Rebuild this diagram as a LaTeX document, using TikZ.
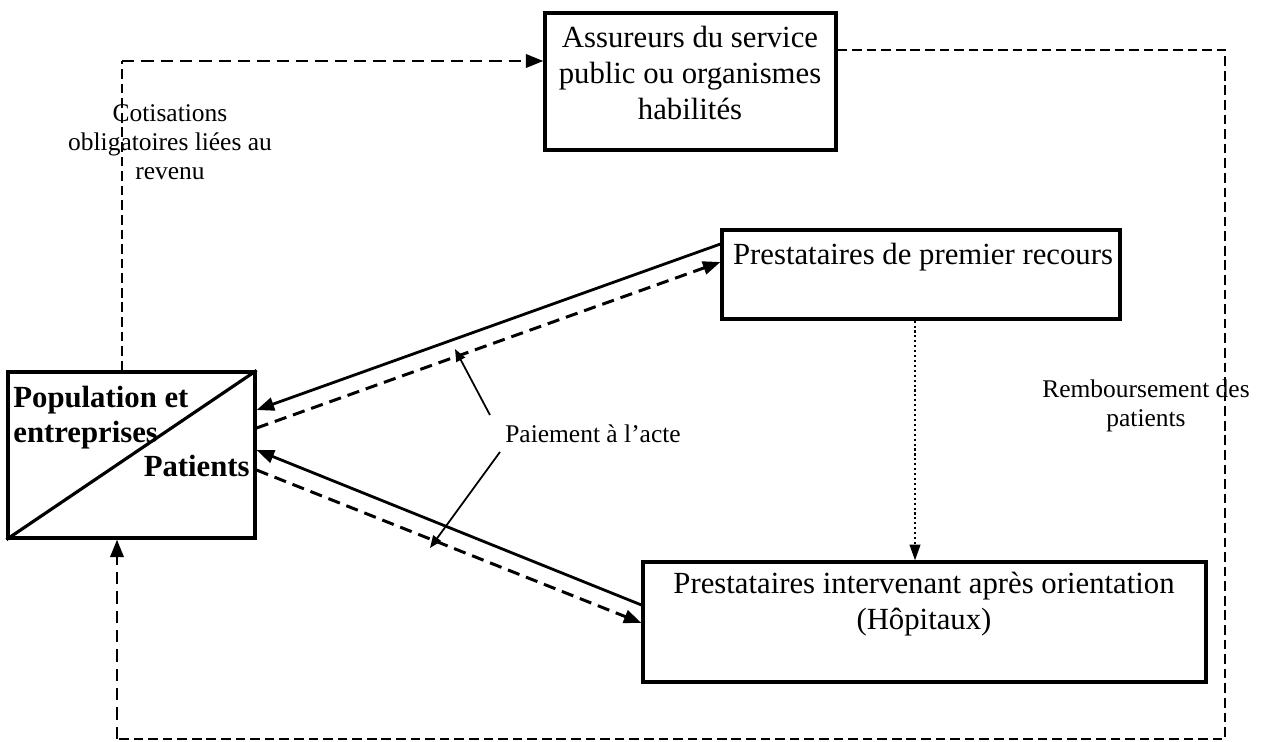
\documentclass[tikz,border=0pt]{standalone}
\usepackage{fontspec}
\setmainfont{Liberation Serif}
\usetikzlibrary{arrows.meta,calc}
\begin{document}
\begin{tikzpicture}[x=0.02cm,y=-0.02cm,
  box/.style={draw, line width=1.8pt, inner sep=0pt},
  boxtext/.style={font=\fontsize{17.5}{20.5}\selectfont, align=center, inner sep=0pt},
  poptext/.style={font=\bfseries\fontsize{17.5}{18}\selectfont, inner sep=0pt},
  lbl/.style={font=\fontsize{14.5}{16.5}\selectfont, align=center, inner sep=0pt},
  tip/.style={-{Triangle[length=10pt,width=7.5pt]}},
  flow/.style={line width=1.6pt},
  cash/.style={line width=1.7pt, dash pattern=on 7pt off 4pt},
  thinloop/.style={line width=1.2pt, dash pattern=on 5.5pt off 2.8pt},
  refer/.style={line width=1.3pt, dash pattern=on 1.2pt off 1.6pt},
  pointer/.style={line width=1pt, -{Triangle[length=7pt,width=5.5pt]}}
]
\useasboundingbox (0,0) rectangle (1270,741);
\fill[white] (0,0) rectangle (1270,741);

% boxes
\node[box, minimum width=5.82cm, minimum height=2.74cm] (assur) at (690.5,81.5) {};
\node[boxtext] (assurtxt) at (690,73) {Assureurs du service\\public ou organismes\\habilités};

\node[box, minimum width=7.96cm, minimum height=1.78cm] (prem) at (921,274.5) {};
\node[boxtext] (premtxt) at (923,257) {Prestataires de premier recours};

\node[box, minimum width=11.26cm, minimum height=2.4cm] (hosp) at (924.5,622) {};
\node[boxtext] (hosptxt) at (924,604) {Prestataires intervenant après orientation\\(Hôpitaux)};

\node[box, minimum width=4.94cm, minimum height=3.32cm] (pop) at (131.5,455) {};
\draw[line width=1.8pt] (pop.south west) -- (pop.north east);
\node[poptext, anchor=base west] (popA) at (13,407) {Population et};
\node[poptext, anchor=base west] (popB) at (13,442) {entreprises};
\node[poptext, anchor=base east] (popC) at (250,476) {Patients};

% labels
\node[lbl] (cotis) at (170,142) {Cotisations\\obligatoires liées au\\revenu};
\node[lbl] (pay) at (593,434) {Paiement à l’acte};
\node[lbl] (remb) at (1146,406) {Remboursement des\\patients};

% contributions to the insurers
\coordinate (cl) at (122,61);
\draw[thinloop] (pop.north -| cl) -- (cl);
\draw[cash, tip] (cl) -- (assur.west |- cl);

% reimbursement loop back to the population
\coordinate (tr) at (1225,50);
\coordinate (br) at (1225,739);
\coordinate (bl) at (117,739);
\draw[thinloop] (assur.east |- tr) -- (tr) -- (br) -- (bl);
\draw[cash, tip] (bl) -- (pop.south -| bl);

% referral
\coordinate (dx) at (915,0);
\draw[refer, -{Triangle[length=9pt,width=6pt]}] (prem.south -| dx) -- (hosp.north -| dx);

% services and payments
\draw[flow, tip] ($(prem.west)+(0,-30.5)$) -- ($(pop.east)+(0,-45)$);
\draw[cash, tip] ($(pop.east)+(0,-27)$) -- ($(prem.west)+(0,-12.5)$);
\draw[flow, tip] ($(hosp.west)+(0,-17)$) -- ($(pop.east)+(0,-5)$);
\draw[cash, tip] ($(pop.east)+(0,15)$) -- ($(hosp.west)+(0,1)$);

% fee-for-service pointers
\coordinate (pa) at (455,349);
\coordinate (pb) at (430,548);
\draw[pointer] ($(pay.west)+(-15,-19)$) -- (pa);
\draw[pointer] ($(pay.west)+(-5,18)$) -- (pb);
\end{tikzpicture}
\end{document}
